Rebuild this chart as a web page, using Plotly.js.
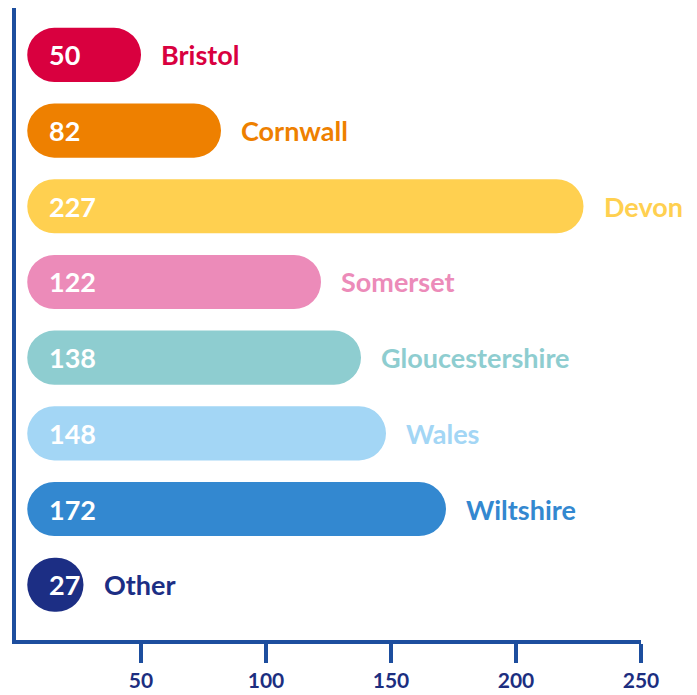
<!DOCTYPE html>
<html>
<head>
<meta charset="utf-8">
<script src="https://cdn.plot.ly/plotly-3.0.1.min.js"></script>
<style>html,body{margin:0;padding:0;background:#fff;}#chart{width:697px;height:695px;}</style>
</head>
<body>
<div id="chart"></div>
<script>
const categories = ["Bristol", "Cornwall", "Devon", "Somerset", "Gloucestershire", "Wales", "Wiltshire", "Other"];
const values = [50, 82, 227, 122, 138, 148, 172, 27];
const colors = ["#D9003F", "#EE8000", "#FFD050", "#EC8BB9", "#8ECDD0", "#A3D6F5", "#3388D0", "#1C2E84"];
const tickValues = [50, 100, 150, 200, 250];
const tickLabels = ["50", "100", "150", "200", "250"];

const FONT = "Lato, 'Open Sans', sans-serif";
const START = 4.5;   // visual gap between axis and bar start (value units)
const idx = categories.map((_, i) => i);

const bars = {
  type: "bar", orientation: "h", y: idx, base: categories.map(() => START),
  x: values.map(v => v - START),
  width: 0.715, marker: {color: colors, cornerradius: "50%", line: {width: 0}},
  hoverinfo: "skip", showlegend: false
};

const annotations = [];
values.forEach((v, i) => {
  annotations.push({
    x: 12.5, y: i, xref: "x", yref: "y", text: String(v), showarrow: false,
    xanchor: "left", yanchor: "middle",
    font: {family: FONT, size: 27, color: "#ffffff", weight: 700}
  });
  annotations.push({
    x: v, y: i, xref: "x", yref: "y", text: categories[i], showarrow: false,
    xanchor: "left", yanchor: "middle", xshift: 18,
    font: {family: FONT, size: 27, color: colors[i], weight: 700}
  });
});

const layout = {
  width: 697, height: 695,
  margin: {l: 16, r: 56, t: 8, b: 55},
  paper_bgcolor: "#ffffff", plot_bgcolor: "#ffffff",
  barmode: "overlay",
  showlegend: false,
  xaxis: {
    range: [0, 250], showgrid: false, zeroline: false,
    showline: true, linecolor: "#1D4E9E", linewidth: 4,
    tickmode: "array", tickvals: tickValues, ticktext: tickLabels,
    ticks: "outside", ticklen: 19, tickwidth: 4, tickcolor: "#1D4E9E",
    tickfont: {family: FONT, size: 21, color: "#1C2E80", weight: 700},
    fixedrange: true
  },
  yaxis: {
    range: [7.73, -0.62], showgrid: false, zeroline: false,
    showline: true, linecolor: "#1D4E9E", linewidth: 4,
    showticklabels: false, ticks: "", fixedrange: true
  },
  annotations: annotations
};

Plotly.newPlot("chart", [bars], layout, {displayModeBar: false, staticPlot: true});
</script>
</body>
</html>
